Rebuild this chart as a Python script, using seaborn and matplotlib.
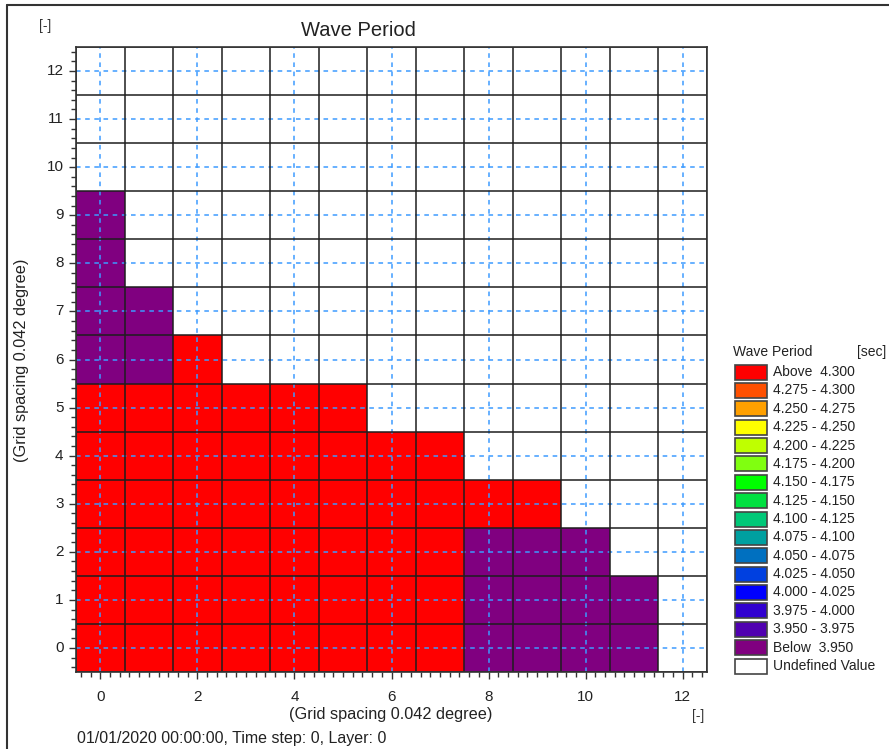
import numpy as np
import pandas as pd
import matplotlib
matplotlib.use("Agg")
import matplotlib.pyplot as plt
import seaborn as sns
from matplotlib.colors import ListedColormap, BoundaryNorm
from matplotlib.patches import Rectangle
from matplotlib.lines import Line2D

# ---------------- data ----------------
x_cells = list(range(13))          # grid column index
y_cells = list(range(13))          # grid row index
nan = np.nan
# wave period [sec] per cell, rows listed from y=0 (bottom) to y=12 (top)
wave_period = [
    [4.35, 4.35, 4.35, 4.35, 4.35, 4.35, 4.35, 4.35, 3.90, 3.90, 3.90, 3.90, nan],   # y=0
    [4.35, 4.35, 4.35, 4.35, 4.35, 4.35, 4.35, 4.35, 3.90, 3.90, 3.90, 3.90, nan],   # y=1
    [4.35, 4.35, 4.35, 4.35, 4.35, 4.35, 4.35, 4.35, 3.90, 3.90, 3.90, nan, nan],    # y=2
    [4.35, 4.35, 4.35, 4.35, 4.35, 4.35, 4.35, 4.35, 4.35, 4.35, nan, nan, nan],     # y=3
    [4.35, 4.35, 4.35, 4.35, 4.35, 4.35, 4.35, 4.35, nan, nan, nan, nan, nan],       # y=4
    [4.35, 4.35, 4.35, 4.35, 4.35, 4.35, nan, nan, nan, nan, nan, nan, nan],         # y=5
    [3.90, 3.90, 4.35, nan, nan, nan, nan, nan, nan, nan, nan, nan, nan],            # y=6
    [3.90, 3.90, nan, nan, nan, nan, nan, nan, nan, nan, nan, nan, nan],             # y=7
    [3.90, nan, nan, nan, nan, nan, nan, nan, nan, nan, nan, nan, nan],              # y=8
    [3.90, nan, nan, nan, nan, nan, nan, nan, nan, nan, nan, nan, nan],              # y=9
    [nan, nan, nan, nan, nan, nan, nan, nan, nan, nan, nan, nan, nan],               # y=10
    [nan, nan, nan, nan, nan, nan, nan, nan, nan, nan, nan, nan, nan],               # y=11
    [nan, nan, nan, nan, nan, nan, nan, nan, nan, nan, nan, nan, nan],               # y=12
]

# legend classes (top to bottom as shown)
legend_labels = ["Above  4.300", "4.275 - 4.300", "4.250 - 4.275", "4.225 - 4.250",
                 "4.200 - 4.225", "4.175 - 4.200", "4.150 - 4.175", "4.125 - 4.150",
                 "4.100 - 4.125", "4.075 - 4.100", "4.050 - 4.075", "4.025 - 4.050",
                 "4.000 - 4.025", "3.975 - 4.000", "3.950 - 3.975", "Below  3.950",
                 "Undefined Value"]
legend_colors = ["#ff0000", "#ff5000", "#ffa000", "#ffff00",
                 "#bfff00", "#80ff10", "#00ff00", "#00e040",
                 "#00c878", "#00a0a0", "#0070c0", "#0040e0",
                 "#0000ff", "#3000d0", "#5000b0", "#800080",
                 "#ffffff"]
class_bounds = [3.0, 3.950, 3.975, 4.000, 4.025, 4.050, 4.075, 4.100, 4.125,
                4.150, 4.175, 4.200, 4.225, 4.250, 4.275, 4.300, 5.0]

x_tick_labels = [0, 2, 4, 6, 8, 10, 12]
y_tick_labels = list(range(13))

# ---------------- figure ----------------
sns.set_style("white")
plt.rcParams["font.family"] = ["Liberation Sans", "DejaVu Sans"]

W, H = 889, 749
fig = plt.figure(figsize=(W / 100, H / 100), dpi=100)
fig.patch.set_facecolor("white")

def fx(px):
    return px / W

def fy(py):
    return 1 - py / H

ax_l, ax_r, ax_t, ax_b = 76, 707, 47, 672
ax = fig.add_axes([fx(ax_l), fy(ax_b), fx(ax_r - ax_l), (ax_b - ax_t) / H])

df = pd.DataFrame(wave_period, index=y_cells, columns=x_cells)
cmap = ListedColormap(legend_colors[:-1][::-1])
norm = BoundaryNorm(class_bounds, cmap.N)
sns.heatmap(df, cmap=cmap, norm=norm, cbar=False, ax=ax, linewidths=0)
ax.set_facecolor("white")
ax.set_xlim(0, len(x_cells))
ax.set_ylim(0, len(y_cells))

# cell borders
n = len(x_cells)
ax.vlines(np.arange(n + 1), 0, n, colors="#1e1e1e", linewidth=1.1, zorder=3)
ax.hlines(np.arange(n + 1), 0, n, colors="#1e1e1e", linewidth=1.1, zorder=3)

# ticks
ax.set_xticks([v + 0.5 for v in x_tick_labels])
ax.set_xticklabels([str(v) for v in x_tick_labels])
ax.set_yticks([v + 0.5 for v in y_tick_labels])
ax.set_yticklabels([str(v) for v in y_tick_labels], rotation=0)
ax.set_xticks(np.arange(0.1, n, 0.2), minor=True)
ax.set_yticks(np.arange(0.1, n, 0.2), minor=True)
ax.tick_params(which="major", direction="out", length=5, width=1, color="#333333",
               labelsize=11, labelcolor="#222222", bottom=True, left=True, top=False, right=False)
ax.tick_params(axis="x", which="major", pad=8)
ax.tick_params(axis="y", which="major", pad=4)
ax.tick_params(which="minor", direction="out", length=3.5, width=1, color="#333333",
               bottom=True, left=True, top=False, right=False)
ax.set_xlabel("")
ax.set_ylabel("")

# dashed blue grid
ax.grid(True, which="major", color="#3d9bff", linestyle=(0, (3, 3)), linewidth=1.1)
ax.set_axisbelow(False)
for gl in ax.get_xgridlines() + ax.get_ygridlines():
    gl.set_zorder(4)

for sp in ax.spines.values():
    sp.set_visible(True)
    sp.set_color("#333333")
    sp.set_linewidth(1.2)
    sp.set_zorder(5)

# texts
fig.text(fx(358), fy(31), "Wave Period", ha="center", va="center", fontsize=14.5, color="#222222")
fig.text(fx(45), fy(26), "[-]", ha="center", va="center", fontsize=10, color="#333333")
fig.text(fx(391), fy(715), "(Grid spacing 0.042 degree)", ha="center", va="center",
         fontsize=11.7, color="#222222")
fig.text(fx(22), fy(360), "(Grid spacing 0.042 degree)", ha="center", va="center",
         rotation=90, fontsize=11.7, color="#222222")
fig.text(fx(698), fy(716), "[-]", ha="center", va="center", fontsize=10, color="#333333")
fig.text(fx(77), fy(738), "01/01/2020 00:00:00, Time step: 0, Layer: 0", ha="left",
         va="center", fontsize=11.5, color="#222222")

# legend
fig.text(fx(733), fy(352), "Wave Period", ha="left", va="center", fontsize=10, color="#222222")
fig.text(fx(886), fy(352), "[sec]", ha="right", va="center", fontsize=10, color="#222222")
y0, dy = 372, 18.375
for i, (lab, col) in enumerate(zip(legend_labels, legend_colors)):
    yc = y0 + i * dy
    fig.patches.append(Rectangle((fx(735), fy(yc + 7.5)), fx(32), 15 / H,
                                 facecolor=col, edgecolor="#444444", linewidth=1.2,
                                 transform=fig.transFigure, figure=fig))
    fig.text(fx(773), fy(yc), lab, ha="left", va="center", fontsize=10, color="#222222")

# window frame lines
fig.add_artist(Line2D([fx(7), fx(7)], [fy(5), 0], color="#333333", linewidth=1.5,
                      transform=fig.transFigure))
fig.add_artist(Line2D([fx(7), 1], [fy(5), fy(5)], color="#333333", linewidth=1.5,
                      transform=fig.transFigure))

fig.savefig("out.png", dpi=100)
